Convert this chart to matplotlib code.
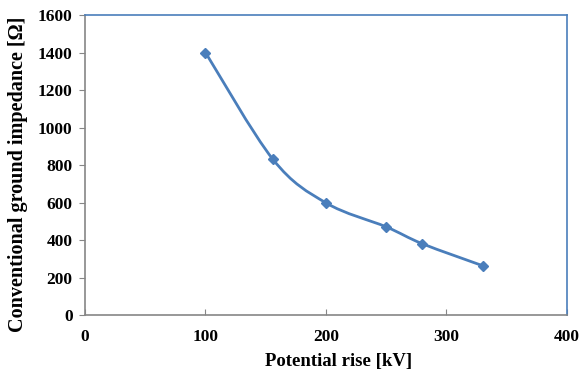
import matplotlib
matplotlib.use("Agg")
import matplotlib.pyplot as plt
from matplotlib.path import Path
from matplotlib.patches import PathPatch
import numpy as np

plt.rcParams["font.family"] = ["Liberation Serif", "DejaVu Serif"]
plt.rcParams["font.weight"] = "bold"

potential_kv = [100, 156, 200, 250, 280, 330]
impedance_ohm = [1400, 830, 598, 470, 380, 263]

blue = "#4A7EBB"
grey = "#868686"


def smooth_path(ax, xs, ys, tension=0.5):
    # Excel-like smoothed line: Catmull-Rom segments as cubic Beziers,
    # control points worked out in pixel space so the curve looks even
    pts = ax.transData.transform(np.column_stack([xs, ys]).astype(float))
    verts = [pts[0]]
    codes = [Path.MOVETO]
    n = len(pts)
    for i in range(n - 1):
        p0 = pts[i - 1] if i > 0 else pts[i]
        p1, p2 = pts[i], pts[i + 1]
        p3 = pts[i + 2] if i + 2 < n else pts[i + 1]
        c1 = p1 + (p2 - p0) * tension / 3
        c2 = p2 - (p3 - p1) * tension / 3
        verts += [c1, c2, p2]
        codes += [Path.CURVE4] * 3
    verts = ax.transData.inverted().transform(np.array(verts))
    return Path(verts, codes)


fig = plt.figure(figsize=(5.81, 3.76), dpi=100)
ax = fig.add_axes([0.1463, 0.1622, 0.8296, 0.7978])
ax.set_xlim(0, 400)
ax.set_ylim(0, 1600)

ax.add_patch(PathPatch(smooth_path(ax, potential_kv, impedance_ohm),
                       fill=False, edgecolor=blue, lw=2.0))
ax.plot(potential_kv, impedance_ohm, ls="none", marker="D", ms=5.5,
        color=blue)

ax.set_xticks(range(0, 401, 100))
ax.set_yticks(range(0, 1601, 200))
ax.tick_params(axis="x", direction="in", length=4, color=grey,
               labelsize=12.5, pad=10)
ax.tick_params(axis="y", direction="out", length=4, color=grey,
               labelsize=12.5, pad=5)

ax.spines["left"].set_color(grey)
ax.spines["bottom"].set_color(grey)
ax.spines["top"].set_color(blue)
ax.spines["right"].set_color(blue)
for s in ax.spines.values():
    s.set_linewidth(1.2)

ax.set_xlabel("Potential rise [kV]", fontsize=13.5, fontweight="bold",
              labelpad=6)
ax.set_ylabel("Conventional ground impedance [Ω]", fontsize=14.5,
              fontweight="bold", labelpad=7)
ax.xaxis.label.set_x(0.526)
ax.yaxis.label.set_y(0.47)

fig.savefig("out.png", dpi=100)
